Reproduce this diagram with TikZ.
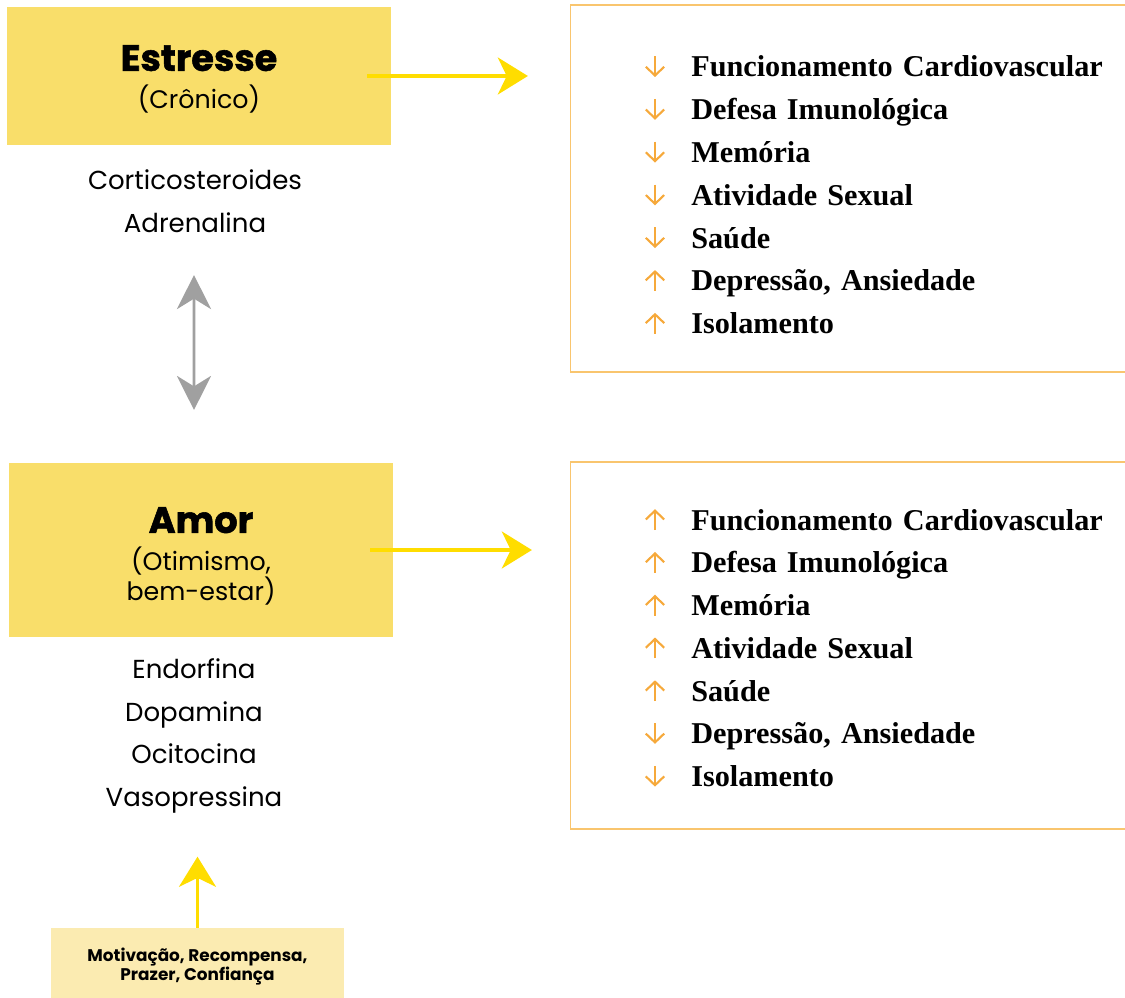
\documentclass[tikz,border=0pt]{standalone}
\usepackage{fontspec}
\setmainfont{Poppins}
\newfontfamily\titlefont{Poppins}[BoldFeatures={FakeBold=1.5}]
\newfontfamily\listfont{Liberation Serif}
\usetikzlibrary{positioning,chains,arrows.meta}
\definecolor{boxyellow}{HTML}{F9DE6A}
\definecolor{boxpale}{HTML}{FBEBB1}
\definecolor{arryellow}{HTML}{FFDD00}
\definecolor{arrgray}{HTML}{A0A0A0}
\definecolor{lineorange}{HTML}{F9C56E}
\definecolor{tickorange}{HTML}{F6A93B}

\begin{document}
\begin{tikzpicture}[
    x=0.025cm, y=-0.025cm,
    node distance=4.55mm,
 mainbox/.style = {
        fill=boxyellow, minimum width=96mm, align=center,
        font=\fontsize{18}{21}\selectfont,
        inner sep=0pt, outer sep=0pt},
 listbox/.style = {
        draw=lineorange, line width=0.8pt, minimum width=142.25mm,
        minimum height=91.75mm, inner sep=0pt, outer sep=0pt},
 hormones/.style = {
        align=center, font=\fontsize{18.5}{30.2}\selectfont},
 item/.style = {
        text width=120mm, align=left, inner sep=0pt,
        text height=4.5mm, text depth=1.5mm,
        font=\listfont\bfseries\fontsize{21.5}{24}\selectfont,
        on chain},
 tick/.style = {
        draw=tickorange, line width=1.5pt,
        -{Straight Barb[length=2.2mm, width=4.6mm, line width=1.5pt]}},
 yarrow/.style = {
        draw=arryellow, line width=2.8pt,
        -{Stealth[length=7.5mm, width=9.2mm, inset=2.2mm]}},
 garrow/.style = {
        draw=arrgray, line width=2.1pt,
        {Stealth[length=8.5mm, width=8.5mm, inset=2.6mm]}-{Stealth[length=8.5mm, width=8.5mm, inset=2.6mm]}}
                    ]
\useasboundingbox (0,0) rectangle (1125,998);
% the yellow boxes on the left
\node (stress) [mainbox, minimum height=34.5mm] at (199,76)
        {\rule{0pt}{23pt}{\titlefont\bfseries\fontsize{26}{26}\selectfont Estresse}\\[6pt]
         (Crônico)};
\node (amor) [mainbox, minimum height=43.5mm] at (201,550)
        {\rule{0pt}{27pt}{\titlefont\bfseries\fontsize{26}{26}\selectfont Amor}\\[6pt]
         (Otimismo,\\ bem-estar)};
\node (shorm) [hormones] at (195,201) {Corticosteroides\\ Adrenalina};
\node (ahorm) [hormones] at (194,736) {Endorfina\\ Dopamina\\ Ocitocina\\ Vasopressina};
\node (motiv) [fill=boxpale, minimum width=73.25mm, minimum height=19.5mm,
        align=center, inner sep=0pt,
        font=\bfseries\fontsize{12}{13.5}\selectfont] at (197.5,967)
        {Motivação, Recompensa,\\ Prazer, Confiança};
% the boxes on the right
\node (list1) [listbox] at (855.5,188.5) {};
\node (list2) [listbox] at (855.5,645.5) {};
% the effects of stress
\begin{scope}[start chain=going below]
\node (s1) [item, anchor=base west] at (691,77) {Funcionamento Cardiovascular};
\node (s2) [item] {Defesa Imunológica};
\node (s3) [item] {Memória};
\node (s4) [item] {Atividade Sexual};
\node (s5) [item] {Saúde};
\node (s6) [item] {Depressão, Ansiedade};
\node (s7) [item] {Isolamento};
\end{scope}
% the effects of love
\begin{scope}[start chain=going below]
\node (a1) [item, anchor=base west] at (691,530) {Funcionamento Cardiovascular};
\node (a2) [item] {Defesa Imunológica};
\node (a3) [item] {Memória};
\node (a4) [item] {Atividade Sexual};
\node (a5) [item] {Saúde};
\node (a6) [item] {Depressão, Ansiedade};
\node (a7) [item] {Isolamento};
\end{scope}
% up and down marks
\foreach \n in {s1,s2,s3,s4,s5,a6,a7}
    \draw[tick] ([xshift=-9mm,yshift=5.2mm]\n.base west) -- ([xshift=-9mm]\n.base west);
\foreach \n in {s6,s7,a1,a2,a3,a4,a5}
    \draw[tick] ([xshift=-9mm]\n.base west) -- ([xshift=-9mm,yshift=5.2mm]\n.base west);
% arrows
\draw[yarrow] ([xshift=-6mm]stress.east) -- ([xshift=-10.75mm]stress.east -| list1.west);
\draw[yarrow] ([xshift=-5.75mm]amor.east) -- ([xshift=-9.75mm]amor.east -| list2.west);
\draw[garrow] ([xshift=-1.25mm,yshift=-32.5mm]stress.south)
                 -- ([xshift=-1.75mm,yshift=13.25mm]amor.north);
\draw[yarrow] (motiv.north) -- ([yshift=17.75mm]motiv.north);
\end{tikzpicture}
\end{document}
